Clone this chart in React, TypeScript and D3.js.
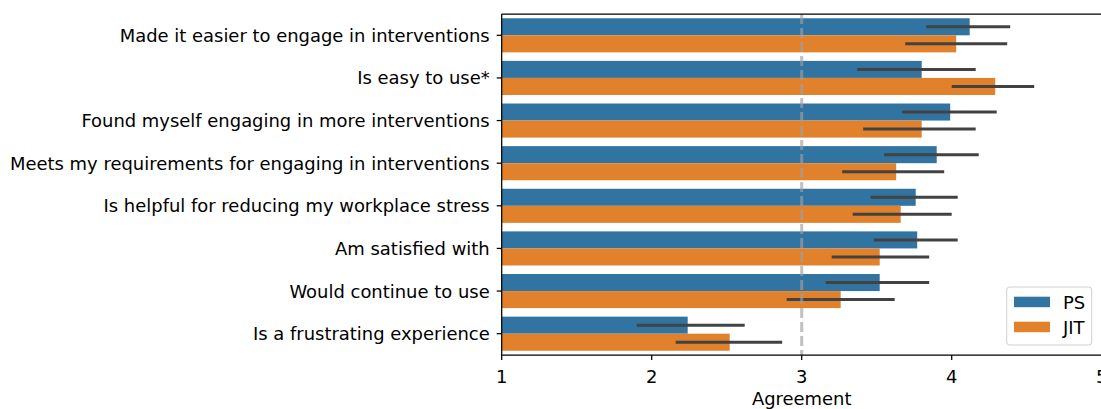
import React from "react";
import * as d3 from "d3";

const categories = [
  "Made it easier to engage in interventions",
  "Is easy to use*",
  "Found myself engaging in more interventions",
  "Meets my requirements for engaging in interventions",
  "Is helpful for reducing my workplace stress",
  "Am satisfied with",
  "Would continue to use",
  "Is a frustrating experience",
];
const seriesNames = ["PS", "JIT"];
const psMean = [4.12, 3.8, 3.99, 3.9, 3.76, 3.77, 3.52, 2.24];
const psLow = [3.83, 3.37, 3.67, 3.55, 3.46, 3.48, 3.16, 1.9];
const psHigh = [4.39, 4.16, 4.3, 4.18, 4.04, 4.04, 3.85, 2.62];
const jitMean = [4.03, 4.29, 3.8, 3.63, 3.66, 3.52, 3.26, 2.52];
const jitLow = [3.69, 4.0, 3.41, 3.27, 3.34, 3.2, 2.9, 2.16];
const jitHigh = [4.37, 4.55, 4.16, 3.95, 4.0, 3.85, 3.62, 2.87];
const xTicks = [1, 2, 3, 4, 5];
const colors = ["#3274a1", "#e1812c"];

export default function App() {
  const W = 1101, H = 409;
  const left = 501.7, right = 1101.7, top = 14, bottom = 355;
  const x = d3.scaleLinear().domain([1, 5]).range([left, right]);
  const yBand = d3.scaleBand<string>().domain(categories).range([top, bottom]).paddingInner(0).paddingOuter(0);
  const bw = yBand.bandwidth();
  const inner = d3.scaleBand<string>().domain(seriesNames).range([0.1 * bw, 0.9 * bw]);
  const series = [
    { name: "PS", mean: psMean, low: psLow, high: psHigh },
    { name: "JIT", mean: jitMean, low: jitLow, high: jitHigh },
  ];
  const font = "'DejaVu Sans', sans-serif";
  const fs = 17.95;
  return (
    <svg width={W} height={H} style={{ position: "absolute", left: 0, top: 0 }} fontFamily={font}>
      {series.map((s, si) =>
        categories.map((c, i) => {
          const y0 = (yBand(c) as number) + (inner(s.name) as number);
          return (
            <rect key={s.name + i} x={x(1)} y={y0} width={x(s.mean[i]) - x(1)} height={inner.bandwidth()} fill={colors[si]} />
          );
        })
      )}
      {series.map((s, si) =>
        categories.map((c, i) => {
          const yc = (yBand(c) as number) + (inner(s.name) as number) + inner.bandwidth() / 2;
          return (
            <line key={"e" + s.name + i} x1={x(s.low[i])} x2={x(s.high[i])} y1={yc} y2={yc} stroke="#424242" strokeWidth={3} />
          );
        })
      )}
      <line x1={x(3)} x2={x(3)} y1={top} y2={bottom} stroke="#a0a0a0" strokeOpacity={0.66} strokeWidth={3} strokeDasharray="10,4" />
      <line x1={left} x2={left} y1={top} y2={bottom} stroke="#000" strokeWidth={1.25} />
      <line x1={left} x2={right} y1={bottom} y2={bottom} stroke="#000" strokeWidth={1.25} />
      <line x1={left} x2={right} y1={top} y2={top} stroke="#000" strokeWidth={1.25} />
      <line x1={right} x2={right} y1={top} y2={bottom} stroke="#000" strokeWidth={1.25} />
      {categories.map((c) => {
        const yc = (yBand(c) as number) + bw / 2;
        return (
          <g key={"t" + c}>
            <line x1={left - 5} x2={left} y1={yc} y2={yc} stroke="#000" strokeWidth={1.25} />
            <text x={left - 12} y={yc} textAnchor="end" dominantBaseline="central" fontSize={fs} fill="#000">{c}</text>
          </g>
        );
      })}
      {xTicks.map((t) => (
        <g key={"x" + t}>
          <line x1={x(t)} x2={x(t)} y1={bottom} y2={bottom + 5} stroke="#000" strokeWidth={1.25} />
          <text x={x(t)} y={bottom + 21} textAnchor="middle" dominantBaseline="central" fontSize={fs} fill="#000">{t}</text>
        </g>
      ))}
      <text x={(left + right) / 2} y={398} textAnchor="middle" dominantBaseline="central" fontSize={fs} fill="#000">Agreement</text>
      <rect x={1006.7} y={287} width={85} height={58} rx={3} fill="#fff" fillOpacity={0.8} stroke="#d0d0d0" strokeWidth={1} />
      {seriesNames.map((n, i) => (
        <g key={"l" + n}>
          <rect x={1014} y={296.7 + i * 25} width={36} height={10.5} fill={colors[i]} />
          <text x={1063} y={302 + i * 25} dominantBaseline="central" fontSize={fs} fill="#000">{n}</text>
        </g>
      ))}
    </svg>
  );
}
